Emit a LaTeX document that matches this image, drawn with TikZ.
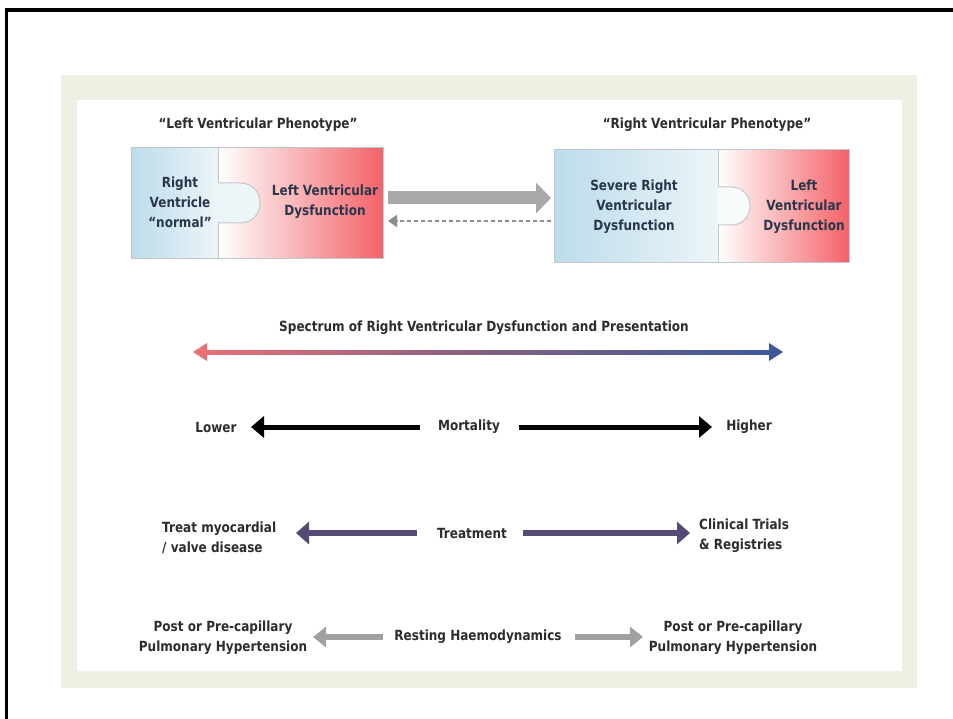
\documentclass[tikz,border=0pt]{standalone}
\usepackage{fontspec}
\setmainfont{DejaVu Sans}[FakeStretch=0.86]
\usetikzlibrary{arrows.meta}
\definecolor{panelbeige}{RGB}{239,240,228}
\definecolor{txtgray}{RGB}{45,45,45}
\definecolor{pznavy}{RGB}{40,55,75}
\definecolor{pzblueL}{RGB}{188,220,234}
\definecolor{pzblueR}{RGB}{236,245,248}
\definecolor{pzred}{RGB}{243,98,104}
\definecolor{pzline}{RGB}{195,200,204}
\definecolor{midgray}{RGB}{168,168,168}
\definecolor{dashgray}{RGB}{140,140,140}
\definecolor{specred}{RGB}{232,112,120}
\definecolor{specmid}{RGB}{128,96,128}
\definecolor{specblue}{RGB}{62,88,152}
\definecolor{treatpurple}{RGB}{86,74,117}
\definecolor{restgray}{RGB}{160,160,160}
\tikzset{
  txt/.style={font=\bfseries\fontsize{14}{20}\selectfont, text=txtgray, inner sep=0pt},
  pztxt/.style={txt, text=pznavy, align=center},
  pzedge/.style={draw=pzline, line width=1pt},
  bigarrow/.style={draw=midgray, line width=13pt, -{Triangle[length=15pt,width=30pt]}},
  dasharrow/.style={draw=dashgray, line width=2pt, dash pattern=on 4pt off 3pt, -{Triangle[length=9pt,width=12pt]}},
  mortarrow/.style={draw=black, line width=5pt, -{Triangle[length=13pt,width=21pt]}},
  treatarrow/.style={draw=treatpurple, line width=6pt, -{Triangle[length=13pt,width=22pt]}},
  restarrow/.style={draw=restgray, line width=6pt, -{Triangle[length=13pt,width=20pt]}}
}
\begin{document}
\begin{tikzpicture}[x=1pt,y=-1pt]
\useasboundingbox (0,0) rectangle (953,719);
\fill[white] (0,0) rectangle (953,719);
% outer frame (cropped)
\draw[line width=3.3pt] (960,10) -- (6.5,10) -- (6.5,725);
% panel
\fill[panelbeige] (61,75) rectangle (917,688);
\fill[white] (77,100) rectangle (902,671);

% ---- left puzzle ----
\shade[left color=pzblueL, right color=pzblueR] (131,148) rectangle (218,259);
\shade[left color=white, right color=pzred] (218,148) rectangle (383,259);
\fill[pzblueR] (218,183) -- (240,183) .. controls (266.7,183) and (266.7,223) .. (240,223) -- (218,223) -- cycle;
\draw[pzedge] (218,183) -- (240,183) .. controls (266.7,183) and (266.7,223) .. (240,223) -- (218,223);
\draw[pzedge] (218,148) -- (218,183) (218,223) -- (218,259);
\draw[pzedge] (131,148) rectangle (383,259);

% ---- right puzzle ----
\shade[left color=pzblueL, right color=pzblueR] (554,150) rectangle (718,263);
\shade[left color=white, right color=pzred] (718,150) rectangle (849,263);
\fill[pzblueR!40!white] (718,187) -- (731,187) .. controls (756.3,187) and (756.3,225) .. (731,225) -- (718,225) -- cycle;
\draw[pzedge] (718,187) -- (731,187) .. controls (756.3,187) and (756.3,225) .. (731,225) -- (718,225);
\draw[pzedge] (718,150) -- (718,187) (718,225) -- (718,263);
\draw[pzedge] (554,150) rectangle (849,263);

% headers
\node[txt] (hdrL) at (258,125) {“Left Ventricular Phenotype”};
\node[txt] (hdrR) at (707,125) {“Right Ventricular Phenotype”};

% puzzle texts
\node[pztxt] (rvn) at (180,202) {Right\\Ventricle\\“normal”};
\node[pztxt] (lvd) at (325,202) {Left Ventricular\\Dysfunction};
\node[pztxt] (srvd) at (634,207) {Severe Right\\Ventricular\\Dysfunction};
\node[pztxt] (lvd2) at (804,207) {Left\\Ventricular\\Dysfunction};

% arrows between puzzles
\coordinate (ga1) at (388,198);
\coordinate (ga2) at (551,198);
\coordinate (da1) at (551,221);
\coordinate (da2) at (388,221);
\draw[bigarrow] (ga1) -- (ga2);
\draw[dasharrow] (da1) -- (da2);

% spectrum
\node[txt] (spec) at (484,328) {Spectrum of Right Ventricular Dysfunction and Presentation};
\coordinate (sL) at (193,352);
\coordinate (sR) at (783,352);
\shade[left color=specred, right color=specblue, middle color=specmid] (205,350) rectangle (771,354);
\fill[specred] (sL) -- (207,343) -- (207,361) -- cycle;
\fill[specblue] (sR) -- (769,343) -- (769,361) -- cycle;

% mortality
\node[txt] (lower) at (216,427) {Lower};
\node[txt] (mort) at (469,427) {Mortality};
\node[txt] (higher) at (749,427) {Higher};
\coordinate (m1) at (420,427);
\coordinate (m2) at (251,427);
\coordinate (m3) at (519,427);
\coordinate (m4) at (712,427);
\draw[mortarrow] (m1) -- (m2);
\draw[mortarrow] (m3) -- (m4);

% treatment
\node[txt, align=left, anchor=west] (tmv) at (162,538) {Treat myocardial\\/ valve disease};
\node[txt] (treat) at (472,533) {Treatment};
\node[txt, align=left, anchor=west] (ctr) at (699,536) {Clinical Trials\\\& Registries};
\coordinate (t1) at (417,533);
\coordinate (t2) at (296,533);
\coordinate (t3) at (523,533);
\coordinate (t4) at (690,533);
\draw[treatarrow] (t1) -- (t2);
\draw[treatarrow] (t3) -- (t4);

% resting
\node[txt, align=center] (pphL) at (223,638) {Post or Pre-capillary\\Pulmonary Hypertension};
\node[txt] (rest) at (478,637) {Resting Haemodynamics};
\node[txt, align=center] (pphR) at (733,638) {Post or Pre-capillary\\Pulmonary Hypertension};
\coordinate (r1) at (383,637);
\coordinate (r2) at (313,637);
\coordinate (r3) at (575,637);
\coordinate (r4) at (643,637);
\draw[restarrow] (r1) -- (r2);
\draw[restarrow] (r3) -- (r4);
\end{tikzpicture}
\end{document}
